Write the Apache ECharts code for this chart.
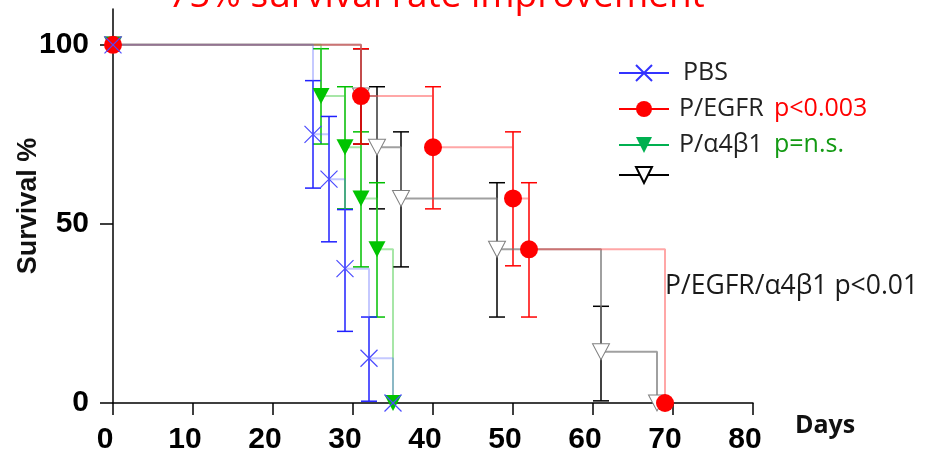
<!DOCTYPE html>
<html>
<head>
<meta charset="utf-8">
<script src="https://cdn.jsdelivr.net/npm/echarts@6/dist/echarts.min.js"></script>
<style>
  html, body { margin: 0; padding: 0; background: #fff; }
  #chart { width: 938px; height: 453px; }
</style>
</head>
<body>
<div id="chart"></div>
<script>
// Kaplan-Meier points (day, survival %)
const pbsDays = [0, 25, 27, 29, 32, 35];
const pbsSurv = [100, 75, 62.5, 37.5, 12.5, 0];
const egfrDays = [0, 31, 40, 50, 52, 69];
const egfrSurv = [100, 85.7, 71.4, 57.1, 42.9, 0];
const a4b1Days = [0, 26, 29, 31, 33, 35];
const a4b1Surv = [100, 85.7, 71.4, 57.1, 42.9, 0];
const bothDays = [0, 31, 33, 36, 48, 61, 68];
const bothSurv = [100, 85.7, 71.4, 57.1, 42.9, 14.3, 0];

// error bars: day, low, high
const pbsErrDays = [25, 27, 29, 32];
const pbsErrLow = [60, 45, 20, 0.5];
const pbsErrHigh = [90, 80, 54, 24];
const egfrErrDays = [31, 40, 50, 52];
const egfrErrLow = [72.3, 54.2, 38.3, 24];
const egfrErrHigh = [98.9, 88.3, 75.7, 61.5];
const a4b1ErrDays = [26, 29, 31, 33];
const a4b1ErrLow = [72.3, 54.2, 38, 24];
const a4b1ErrHigh = [98.9, 88.3, 75.7, 61.5];
const bothErrDays = [31, 33, 36, 48, 61];
const bothErrLow = [72.3, 54.2, 38, 24, 0.6];
const bothErrHigh = [98.9, 88.3, 75.7, 61.5, 27];

const xTicks = [0, 10, 20, 30, 40, 50, 60, 70, 80];
const yTicks = [0, 50, 100];

const TRI_DOWN = 'path://M0,0L10,0L5,9Z';
const CROSS = 'path://M0,0L10,10M10,0L0,10';
const sansFont = '"Open Sans", "Noto Sans", sans-serif';
const boldFont = '"Liberation Sans", Arial, sans-serif';

const pairs = (xs, ys) => xs.map((x, i) => [x, ys[i]]);
const bars = (xs, lo, hi) => xs.map((x, i) => [x, lo[i], hi[i]]);

// 误差线：竖线 + 上下横帽
function errorBar(params, api) {
    const x = api.value(0);
    const top = api.coord([x, api.value(2)]);
    const bot = api.coord([x, api.value(1)]);
    const half = 8;
    const style = { stroke: api.visual('color'), lineWidth: 1.5 };
    return {
        type: 'group',
        children: [
            { type: 'line', shape: { x1: top[0], y1: top[1], x2: bot[0], y2: bot[1] }, style },
            { type: 'line', shape: { x1: top[0] - half, y1: top[1], x2: top[0] + half, y2: top[1] }, style },
            { type: 'line', shape: { x1: bot[0] - half, y1: bot[1], x2: bot[0] + half, y2: bot[1] }, style }
        ]
    };
}

const errSeries = (name, color, data) => ({
    name,
    type: 'custom',
    renderItem: errorBar,
    itemStyle: { color },
    encode: { x: 0, y: [1, 2] },
    data,
    silent: true
});

const kmSeries = (name, data, lineColor, symbol, size, itemStyle) => ({
    name,
    type: 'line',
    step: 'end',
    data,
    symbol,
    symbolSize: size,
    showAllSymbol: true,
    lineStyle: { color: lineColor, width: 2 },
    itemStyle,
    silent: true
});

const chart = echarts.init(document.getElementById('chart'));
chart.setOption({
    animation: false,
    title: {
        text: '75% survival rate improvement',
        left: 163,
        top: -27,
        textStyle: { color: '#ff0000', fontSize: 37, fontWeight: 'normal', fontFamily: sansFont }
    },
    grid: { left: 113, right: 185, top: 9, bottom: 50, containLabel: false, outerBoundsMode: 'none' },
    legend: {
        orient: 'vertical',
        left: 613,
        top: 53,
        itemWidth: 50,
        itemHeight: 20,
        itemGap: 6,
        selectedMode: false,
        formatter: name => {
            if (name === 'PBS') return '{p|PBS}';
            if (name === 'P/EGFR') return '{n|P/EGFR}{r|p<0.003}';
            if (name === 'P/α4β1') return '{n|P/α4β1}{g|p=n.s.}';
            return '';
        },
        textStyle: {
            fontFamily: sansFont,
            fontSize: 25,
            color: '#222',
            lineHeight: 30,
            rich: {
                p: { fontSize: 25, fontFamily: sansFont, color: '#222', padding: [0, 0, 0, 9] },
                n: { fontSize: 25, fontFamily: sansFont, color: '#222', width: 95, padding: [0, 0, 0, 5] },
                r: { fontSize: 25, fontFamily: sansFont, color: '#ff0000' },
                g: { fontSize: 25, fontFamily: sansFont, color: '#139a13' }
            }
        },
        data: [
            { name: 'PBS', lineStyle: { color: '#3333ff', width: 2 }, itemStyle: { color: '#3333ff', borderColor: '#3333ff', borderWidth: 2 } },
            { name: 'P/EGFR', lineStyle: { color: '#ff0000', width: 2 }, itemStyle: { color: '#ff0000' } },
            { name: 'P/α4β1', lineStyle: { color: '#00b050', width: 2 }, itemStyle: { color: '#00b050', borderWidth: 0 } },
            { name: 'P/EGFR/α4β1', lineStyle: { color: '#000', width: 2 }, itemStyle: { color: '#fff', borderColor: '#000', borderWidth: 2 } }
        ]
    },
    xAxis: {
        type: 'value',
        min: 0,
        max: 80,
        interval: 10,
        name: 'Days',
        nameLocation: 'end',
        nameGap: 42,
        nameMoveOverlap: false,
        nameTextStyle: { fontFamily: sansFont, fontWeight: 'bold', fontSize: 25, color: '#111', align: 'left', verticalAlign: 'top', padding: [10, 0, 0, 0] },
        axisLine: { lineStyle: { color: '#000', width: 1.5 } },
        axisTick: { show: true, inside: false, length: 12, lineStyle: { color: '#000', width: 1.5 }, customValues: xTicks },
        axisLabel: { margin: 22, fontFamily: boldFont, fontWeight: 'bold', fontSize: 30, color: '#000', padding: [0, 16, 0, 0], customValues: xTicks },
        splitLine: { show: false }
    },
    yAxis: {
        type: 'value',
        min: 0,
        max: 110,
        interval: 50,
        name: 'Survival %',
        nameLocation: 'middle',
        nameRotate: 90,
        nameGap: 71,
        nameMoveOverlap: false,
        nameTextStyle: { fontFamily: boldFont, fontWeight: 'bold', fontSize: 27, color: '#111' },
        axisLine: { show: true, lineStyle: { color: '#000', width: 1.5 } },
        axisTick: { show: true, inside: false, length: 13, lineStyle: { color: '#000', width: 1.5 }, customValues: yTicks },
        axisLabel: { margin: 24, fontFamily: boldFont, fontWeight: 'bold', fontSize: 30, color: '#000', customValues: yTicks },
        splitLine: { show: false }
    },
    graphic: [{
        type: 'text',
        style: {
            text: 'P/EGFR/α4β1 p<0.01',
            x: 665,
            y: 286,
            verticalAlign: 'middle',
            font: '26.5px "Open Sans", "Noto Sans", sans-serif',
            fill: '#1a1a1a'
        }
    }],
    series: [
        errSeries('both err', '#000000', bars(bothErrDays, bothErrLow, bothErrHigh)),
        errSeries('a4b1 err', '#00c000', bars(a4b1ErrDays, a4b1ErrLow, a4b1ErrHigh)),
        errSeries('egfr err', '#ff0000', bars(egfrErrDays, egfrErrLow, egfrErrHigh)),
        errSeries('pbs err', '#2020ff', bars(pbsErrDays, pbsErrLow, pbsErrHigh)),
        kmSeries('P/EGFR/α4β1', pairs(bothDays, bothSurv), 'rgba(120,120,120,0.7)', TRI_DOWN, [17, 16],
            { color: '#ffffff', borderColor: '#808080', borderWidth: 1 }),
        kmSeries('P/α4β1', pairs(a4b1Days, a4b1Surv), 'rgba(60,200,60,0.45)', TRI_DOWN, [17, 16],
            { color: '#00c400' }),
        kmSeries('P/EGFR', pairs(egfrDays, egfrSurv), 'rgba(255,60,60,0.45)', 'circle', 18,
            { color: '#ff0000' }),
        kmSeries('PBS', pairs(pbsDays, pbsSurv), 'rgba(90,100,255,0.35)', CROSS, 17,
            { color: '#4a4aff', borderColor: '#4a4aff', borderWidth: 1.2 })
    ]
});
</script>
</body>
</html>
